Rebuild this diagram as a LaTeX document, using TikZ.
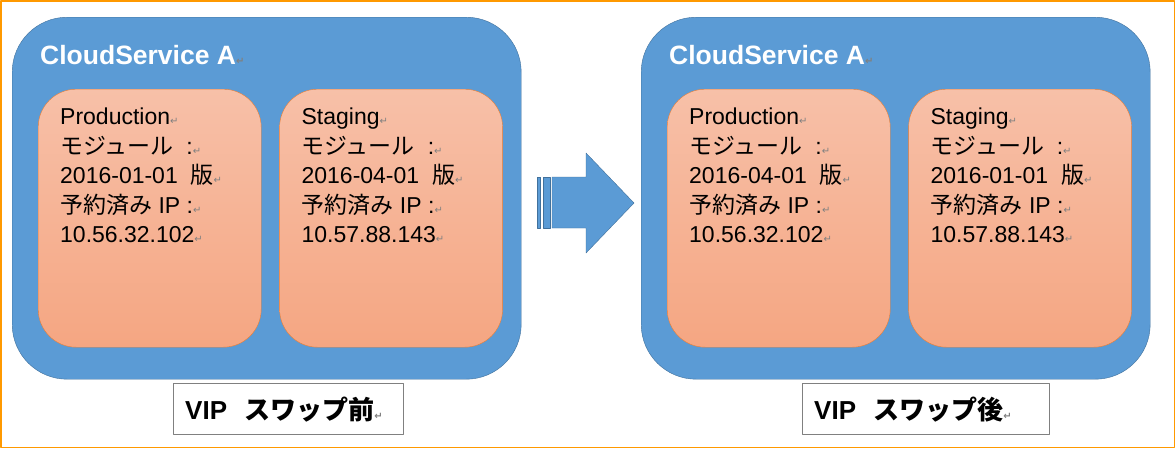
\documentclass[tikz,border=0pt]{standalone}
\usepackage{fontspec}
\setmainfont{Liberation Sans}
\newfontfamily\jp{Noto Sans CJK JP}
\newfontfamily\symfont{DejaVu Sans}
\usetikzlibrary{positioning}

\definecolor{cloudblue}{RGB}{91,155,213}
\definecolor{cloudedge}{RGB}{65,113,156}
\definecolor{roletop}{RGB}{247,192,168}
\definecolor{rolebottom}{RGB}{245,166,130}
\definecolor{roleedge}{RGB}{237,125,49}
\definecolor{frameorange}{RGB}{255,153,0}

% Word paragraph mark
\newcommand\ret{{\color{gray}\symfont\fontsize{10}{10}\selectfont ↵}}

\tikzset
{
	cloud box/.style={draw=cloudedge,fill=cloudblue,rounded corners=55pt,minimum width=509pt,minimum height=362pt},
	cloud title/.style={inner sep=0pt,text=white,font=\fontsize{26.5}{26.5}\selectfont\bfseries},
	role box/.style={draw=roleedge,top color=roletop,bottom color=rolebottom,rounded corners=38pt,minimum width=223pt,minimum height=258pt},
	role text/.style={align=left,inner sep=0pt,font=\fontsize{23}{29.5}\selectfont},
	swap label/.style={draw=gray,fill=white,minimum height=51pt,inner xsep=12pt,align=left,font=\fontsize{26}{26}\selectfont\bfseries}
}

\begin{document}
\begin{tikzpicture}[x=1pt,y=-1pt,line join=round]
	\useasboundingbox (0,0) rectangle (1175,448);
	% frame
	\draw[frameorange,line width=1.5pt,fill=white] (0.75,0.75) rectangle (1174.25,447.25);
	% both cloud services
	\foreach \side/\dx/\prodver/\stagver/\lbl/\lblw in {L/0/2016-01-01/2016-04-01/前/206, R/629/2016-04-01/2016-01-01/後/223}
	{
		\begin{scope}[xshift=\dx]
			\node[cloud box,anchor=north west] (cloud\side) at (12,17) {};
			\node[cloud title,below right=47pt and 28pt of cloud\side.north west,anchor=base west] (title\side) {CloudService A\ret};
			% roles
			\node[role box,below right=72pt and 26pt of cloud\side.north west] (prod\side) {};
			\node[role box,right=18pt of prod\side] (stag\side) {};
			\node[role text,below right=19pt and 22pt of prod\side.north west] (prodtext\side)
			{Production\ret\\ {\jp モジュール}\ \ :\ret\\ \prodver\ \ {\jp 版}\ret\\ {\jp 予約済み} IP :\ret\\ 10.56.32.102\ret};
			\node[role text,below right=19pt and 22pt of stag\side.north west] (stagtext\side)
			{Staging\ret\\ {\jp モジュール}\ \ :\ret\\ \stagver\ \ {\jp 版}\ret\\ {\jp 予約済み} IP :\ret\\ 10.57.88.143\ret};
			% label
			\node[swap label,text width=\lblw pt,below right=4pt and 161pt of cloud\side.south west] (label\side) {VIP\ \ {\jp スワップ\lbl}\ret};
		\end{scope}
	}
	% swap arrow
	\begin{scope}[fill=cloudblue,draw=cloudedge]
		\filldraw (537.3,177) rectangle (540.5,228);
		\filldraw (543.5,177) rectangle (550,228);
		\filldraw (552,177) -- (586,177) -- (586,153) -- (634,203) -- (586,253) -- (586,228) -- (552,228) -- cycle;
	\end{scope}
\end{tikzpicture}
\end{document}
